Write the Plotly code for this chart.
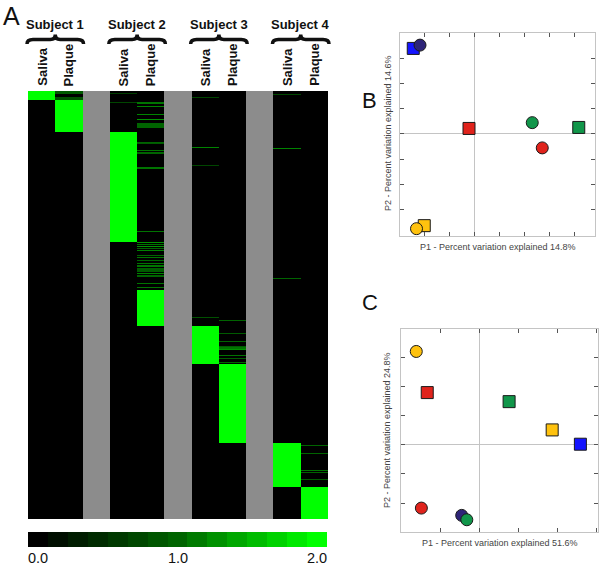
import numpy as np
import plotly.graph_objects as go

W, H = 600, 567

# ---------------- Panel A data ----------------
subjects = ["Subject 1", "Subject 2", "Subject 3", "Subject 4"]
sample_types = ["Saliva", "Plaque"]
n_otus = 428

# segments of OTU rows per sample column: (first_row, end_row_exclusive, value)
s1_saliva = [(0, 9, 2.0)]
s1_plaque = [(0, 3, 0.9), (6, 9, 0.8), (9, 41, 2.0)]
s2_saliva = [(2, 3, 0.6), (11, 12, 0.7), (41, 151, 2.0)]
s2_plaque = [(11, 13, 1.1), (15, 16, 1.2), (23, 24, 1.2), (28, 29, 1.3), (32, 37, 1.0),
             (51, 52, 1.0), (52, 53, 0.9), (59, 60, 1.1), (61, 63, 1.0), (76, 78, 1.1),
             (140, 141, 1.1), (151, 152, 1.3), (153, 154, 1.1), (155, 156, 1.3),
             (157, 158, 1.0), (159, 160, 1.2), (164, 165, 1.0), (166, 167, 1.1),
             (169, 170, 1.0), (172, 173, 1.1), (174, 176, 1.1), (177, 181, 0.9),
             (182, 183, 1.2), (184, 186, 1.0), (192, 193, 1.1), (196, 197, 1.1),
             (199, 235, 2.0)]
s3_saliva = [(6, 7, 0.7), (56, 57, 1.2), (74, 75, 0.7), (226, 227, 0.8), (235, 273, 2.0)]
s3_plaque = [(229, 230, 1.0), (242, 243, 0.9), (250, 251, 1.0), (255, 256, 0.9),
             (256, 258, 1.1), (258, 259, 1.3), (264, 265, 1.1), (267, 268, 0.9),
             (271, 272, 1.0), (273, 352, 2.0)]
s4_saliva = [(3, 4, 0.7), (57, 58, 1.2), (187, 188, 1.0), (352, 396, 2.0)]
s4_plaque = [(354, 355, 1.0), (362, 363, 1.0), (379, 380, 1.1), (381, 382, 1.0),
             (388, 389, 0.9), (396, 428, 2.0)]

# column layout: None marks the grey separator columns
columns = [s1_saliva, s1_plaque, None, s2_saliva, s2_plaque, None,
           s3_saliva, s3_plaque, None, s4_saliva, s4_plaque]

colorbar_steps = [0.0, 0.14, 0.29, 0.43, 0.57, 0.71, 0.86, 1.0,
                  1.14, 1.29, 1.43, 1.57, 1.71, 1.86, 2.0]
colorbar_labels = ["0.0", "1.0", "2.0"]

# ---------------- Panels B / C data ----------------
pt_symbol = ["square", "square", "square", "square", "circle", "circle", "circle", "circle"]
pt_color = ["#e0231c", "#11964a", "#ffc20e", "#1414ff", "#2d2478", "#ffc20e", "#e0231c", "#11964a"]
b_x = [-0.021, 0.418, -0.200, -0.244, -0.217, -0.231, 0.272, 0.232]
b_y = [0.021, 0.025, -0.364, 0.338, 0.351, -0.376, -0.056, 0.044]
c_x = [-0.133, 0.076, 0.186, 0.258, -0.045, -0.161, -0.148, -0.032]
c_y = [0.179, 0.148, 0.051, 0.002, -0.242, 0.320, -0.217, -0.257]
b_xtitle = "P1 - Percent variation explained 14.8%"
b_ytitle = "P2 - Percent variation explained 14.6%"
c_xtitle = "P1 - Percent variation explained 51.6%"
c_ytitle = "P2 - Percent variation explained 24.8%"

# ---------------- build matrices ----------------
ncol = len(columns)
z = np.full((n_otus, ncol), np.nan)
zgap = np.full((n_otus, ncol), np.nan)
for ci, segs in enumerate(columns):
    if segs is None:
        zgap[:, ci] = 1.0
        continue
    z[:, ci] = 0.0
    for a, b, v in segs:
        z[a:b, ci] = v

green_scale = [[0.0, "#000000"], [0.5, "#006400"], [1.0, "#00ff00"]]


def px(x):
    return x / W


def py(y):
    return 1 - y / H


fig = go.Figure()
fig.add_trace(go.Heatmap(z=zgap, x=list(range(ncol)), y=list(range(n_otus)),
                         colorscale=[[0, "#8c8c8c"], [1, "#8c8c8c"]], zmin=0, zmax=1,
                         showscale=False, hoverinfo="skip", xaxis="x", yaxis="y"))
fig.add_trace(go.Heatmap(z=z, x=list(range(ncol)), y=list(range(n_otus)),
                         colorscale=green_scale, zmin=0, zmax=2,
                         showscale=False, xaxis="x", yaxis="y"))
# colour key
fig.add_trace(go.Heatmap(z=[colorbar_steps], x=list(range(len(colorbar_steps))), y=[0],
                         colorscale=green_scale, zmin=0, zmax=2, showscale=False,
                         hoverinfo="skip", xaxis="x4", yaxis="y4"))

for xs, ys, xa, ya in [(b_x, b_y, "x2", "y2"), (c_x, c_y, "x3", "y3")]:
    fig.add_trace(go.Scatter(x=xs, y=ys, mode="markers", xaxis=xa, yaxis=ya,
                             marker=dict(symbol=pt_symbol, color=pt_color, size=12,
                                         line=dict(color="#1a1a1a", width=1)),
                             showlegend=False))

hidden = dict(visible=False, showgrid=False, zeroline=False)
pc_axis = dict(showgrid=False, zeroline=True, zerolinecolor="#c4c4c4", zerolinewidth=1,
               showline=True, linecolor="#c4c4c4", linewidth=1, mirror="ticks",
               ticks="inside", ticklen=4, tickcolor="#555555", tickwidth=1,
               dtick=0.1, tick0=0, showticklabels=False)

fig.update_layout(
    width=W, height=H, margin=dict(l=0, r=0, t=0, b=0),
    template="none", paper_bgcolor="white", plot_bgcolor="white",
    showlegend=False,
    xaxis=dict(hidden, domain=[px(28), px(328)], range=[-0.5, ncol - 0.5]),
    yaxis=dict(hidden, domain=[py(519), py(91)], range=[n_otus - 0.5, -0.5]),
    xaxis2=dict(pc_axis, domain=[px(400), px(595)], range=[-0.297, 0.483], anchor="y2"),
    yaxis2=dict(pc_axis, domain=[py(235.5), py(32.5)], range=[-0.403, 0.401], anchor="x2"),
    xaxis3=dict(pc_axis, domain=[px(401), px(598)], range=[-0.2, 0.303], anchor="y3"),
    yaxis3=dict(pc_axis, domain=[py(532), py(329)], range=[-0.299, 0.397], anchor="x3"),
    xaxis4=dict(hidden, domain=[px(28), px(327)], range=[-0.5, len(colorbar_steps) - 0.5], anchor="y4"),
    yaxis4=dict(hidden, domain=[py(547), py(532)], range=[-0.5, 0.5], anchor="x4"),
)

ann = []
font_reg = "Liberation Sans, Arial, sans-serif"
# panel letters
ann.append(dict(text="A", x=px(1), y=py(0), xanchor="left", yanchor="top",
                font=dict(size=25, family=font_reg, color="#111")))
ann.append(dict(text="B", x=px(360), y=py(86), xanchor="left", yanchor="top",
                font=dict(size=22, family=font_reg, color="#111")))
ann.append(dict(text="C", x=px(360), y=py(288), xanchor="left", yanchor="top",
                font=dict(size=22, family=font_reg, color="#111")))

col_left, col_w = 28, 300 / ncol
shapes = []
for si, subj in enumerate(subjects):
    c0 = si * 3
    xl = col_left + c0 * col_w
    xr = xl + 2 * col_w
    cx = (xl + xr) / 2
    ann.append(dict(text="<b>%s</b>" % subj, x=px(cx), y=py(25), xanchor="center", yanchor="middle",
                    font=dict(size=13, family=font_reg, color="#111")))
    a, b = xl - 1, xr + 1
    pts = [(a, 44), (a, 39.5), (a + 6, 39.5), (cx - 5, 39.5), (cx, 39.5), (cx, 34.5),
           (cx, 39.5), (cx + 5, 39.5), (b - 6, 39.5), (b, 39.5), (b, 44)]
    P = [(px(x), py(y)) for x, y in pts]
    path = ("M {0[0]},{0[1]} Q {1[0]},{1[1]} {2[0]},{2[1]} L {3[0]},{3[1]} Q {4[0]},{4[1]} {5[0]},{5[1]} "
            "Q {6[0]},{6[1]} {7[0]},{7[1]} L {8[0]},{8[1]} Q {9[0]},{9[1]} {10[0]},{10[1]}").format(*P)
    shapes.append(dict(type="path", path=path, xref="paper", yref="paper",
                       line=dict(color="#111", width=3.5)))
    for k, st in enumerate(sample_types):
        ccx = col_left + (c0 + k + 0.5) * col_w
        ann.append(dict(text="<b>%s</b>" % st, x=px(ccx), y=py(88), xanchor="center", yanchor="bottom",
                        textangle=-90, font=dict(size=13, family=font_reg, color="#111")))

# colour key labels
lab_font = dict(size=14.5, family=font_reg, color="#111")
ann.append(dict(text=colorbar_labels[0], x=px(27), y=py(557.5), xanchor="left", yanchor="middle",
                font=lab_font, borderpad=0))
ann.append(dict(text=colorbar_labels[1], x=px(177.5), y=py(557.5), xanchor="center", yanchor="middle",
                font=lab_font, borderpad=0))
ann.append(dict(text=colorbar_labels[2], x=px(328), y=py(557.5), xanchor="right", yanchor="middle",
                font=lab_font, borderpad=0))

tf = dict(size=9, family=font_reg, color="#444")
ann.append(dict(text=b_xtitle, x=px(498), y=py(247), xanchor="center", yanchor="middle", font=tf))
ann.append(dict(text=b_ytitle, x=px(388), y=py(133), xanchor="center", yanchor="middle", textangle=-90, font=tf))
ann.append(dict(text=c_xtitle, x=px(500), y=py(543), xanchor="center", yanchor="middle", font=tf))
ann.append(dict(text=c_ytitle, x=px(387), y=py(430), xanchor="center", yanchor="middle", textangle=-90, font=tf))

for a in ann:
    a.update(xref="paper", yref="paper", showarrow=False)
fig.update_layout(annotations=ann, shapes=shapes)

fig.write_html("out.html", config={"displayModeBar": False},
               post_script="document.body.style.margin='0px';document.body.style.overflow='hidden';")
